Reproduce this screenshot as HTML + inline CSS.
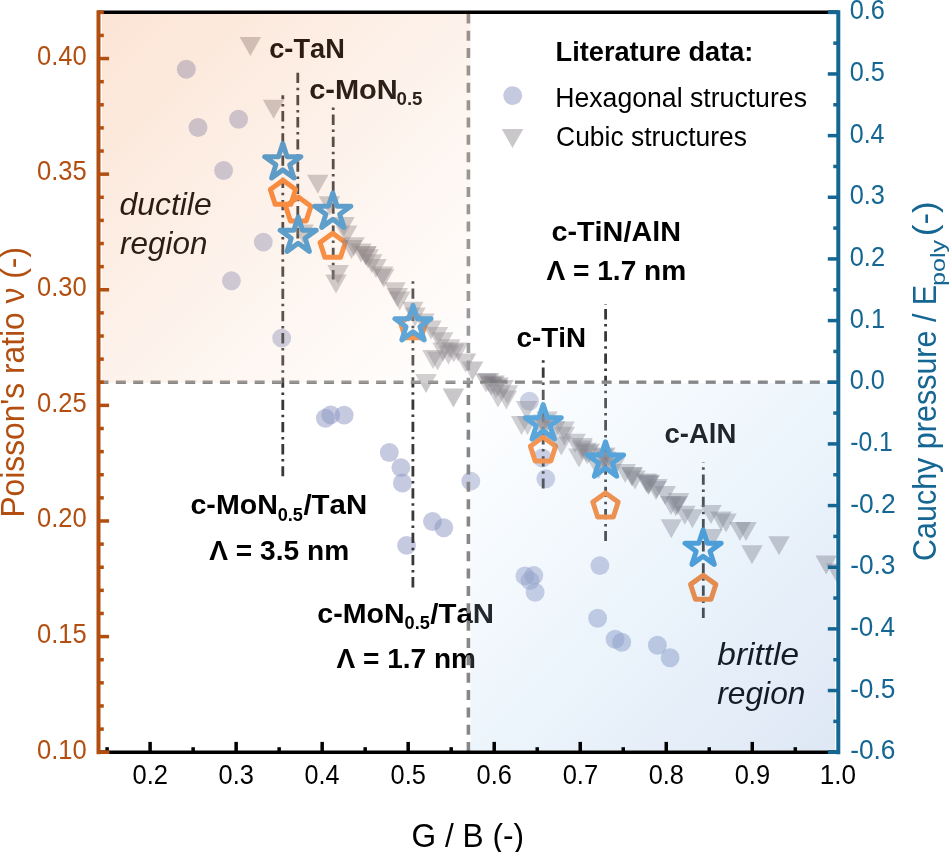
<!DOCTYPE html><html><head><meta charset="utf-8"><style>html,body{margin:0;padding:0;background:#fff;}svg{display:block;will-change:transform;font-family:"Liberation Sans",sans-serif;font-kerning:none;}</style></head><body>
<svg width="950" height="852" viewBox="0 0 950 852">
<defs><linearGradient id="gp" x1="0" y1="0" x2="1" y2="1"><stop offset="0" stop-color="#EE6A12"/><stop offset="0.5" stop-color="#F4B890"/><stop offset="1" stop-color="#FFFFFF"/></linearGradient><linearGradient id="gb" x1="0" y1="0" x2="1" y2="1"><stop offset="0" stop-color="#FFFFFF"/><stop offset="0.5" stop-color="#9BC8EF"/><stop offset="1" stop-color="#487FC7"/></linearGradient><clipPath id="pc"><rect x="98.5" y="12.3" width="739.8" height="739.9"/></clipPath></defs>
<rect width="950" height="852" fill="#fff"/>
<g clip-path="url(#pc)">
<circle cx="186.3" cy="69.3" r="9.45" fill="#8B95C1" fill-opacity="0.5"/>
<circle cx="198" cy="127.5" r="9.45" fill="#8B95C1" fill-opacity="0.5"/>
<circle cx="238.6" cy="119.3" r="9.45" fill="#8B95C1" fill-opacity="0.5"/>
<circle cx="223.6" cy="170.5" r="9.45" fill="#8B95C1" fill-opacity="0.5"/>
<circle cx="263.3" cy="242.1" r="9.45" fill="#8B95C1" fill-opacity="0.5"/>
<circle cx="231.4" cy="280.8" r="9.45" fill="#8B95C1" fill-opacity="0.5"/>
<circle cx="281.7" cy="338.1" r="9.45" fill="#8B95C1" fill-opacity="0.5"/>
<circle cx="325.4" cy="418.3" r="9.45" fill="#8B95C1" fill-opacity="0.5"/>
<circle cx="330.7" cy="414.9" r="9.45" fill="#8B95C1" fill-opacity="0.5"/>
<circle cx="344.2" cy="415.1" r="9.45" fill="#8B95C1" fill-opacity="0.5"/>
<circle cx="389.3" cy="452.5" r="9.45" fill="#8B95C1" fill-opacity="0.5"/>
<circle cx="400.9" cy="467.6" r="9.45" fill="#8B95C1" fill-opacity="0.5"/>
<circle cx="402.4" cy="483" r="9.45" fill="#8B95C1" fill-opacity="0.5"/>
<circle cx="470.8" cy="481.1" r="9.45" fill="#8B95C1" fill-opacity="0.5"/>
<circle cx="432.5" cy="521.5" r="9.45" fill="#8B95C1" fill-opacity="0.5"/>
<circle cx="443.8" cy="527.7" r="9.45" fill="#8B95C1" fill-opacity="0.5"/>
<circle cx="406.6" cy="545.4" r="9.45" fill="#8B95C1" fill-opacity="0.5"/>
<circle cx="529.4" cy="401.2" r="9.45" fill="#8B95C1" fill-opacity="0.5"/>
<circle cx="542.3" cy="458" r="9.45" fill="#8B95C1" fill-opacity="0.5"/>
<circle cx="545.8" cy="478.7" r="9.45" fill="#8B95C1" fill-opacity="0.5"/>
<circle cx="524.9" cy="575.9" r="9.45" fill="#8B95C1" fill-opacity="0.5"/>
<circle cx="533.8" cy="575.5" r="9.45" fill="#8B95C1" fill-opacity="0.5"/>
<circle cx="530" cy="580.6" r="9.45" fill="#8B95C1" fill-opacity="0.5"/>
<circle cx="535.1" cy="592.2" r="9.45" fill="#8B95C1" fill-opacity="0.5"/>
<circle cx="599.9" cy="565.6" r="9.45" fill="#8B95C1" fill-opacity="0.5"/>
<circle cx="597.6" cy="618.2" r="9.45" fill="#8B95C1" fill-opacity="0.5"/>
<circle cx="615.1" cy="639.3" r="9.45" fill="#8B95C1" fill-opacity="0.5"/>
<circle cx="621.7" cy="642.3" r="9.45" fill="#8B95C1" fill-opacity="0.5"/>
<circle cx="657.4" cy="645.2" r="9.45" fill="#8B95C1" fill-opacity="0.5"/>
<circle cx="670.1" cy="657.7" r="9.45" fill="#8B95C1" fill-opacity="0.5"/>
<line x1="282.8" y1="95.2" x2="282.8" y2="476.3" stroke="#383838" stroke-width="2.8" stroke-dasharray="10.3 4.7 2.5 4.7" stroke-dashoffset="6.3"/>
<line x1="297.8" y1="72.7" x2="297.8" y2="238.6" stroke="#383838" stroke-width="2.8" stroke-dasharray="10.3 4.7 2.5 4.7" stroke-dashoffset="0"/>
<line x1="333.2" y1="107.4" x2="333.2" y2="279.6" stroke="#383838" stroke-width="2.8" stroke-dasharray="10.3 4.7 2.5 4.7" stroke-dashoffset="15"/>
<line x1="412.9" y1="281.3" x2="412.9" y2="587.7" stroke="#383838" stroke-width="2.8" stroke-dasharray="10.3 4.7 2.5 4.7" stroke-dashoffset="15"/>
<line x1="543.2" y1="360.3" x2="543.2" y2="488.6" stroke="#383838" stroke-width="2.8" stroke-dasharray="10.3 4.7 2.5 4.7" stroke-dashoffset="15"/>
<line x1="605.6" y1="303.9" x2="605.6" y2="541" stroke="#383838" stroke-width="2.8" stroke-dasharray="10.3 4.7 2.5 4.7" stroke-dashoffset="17"/>
<line x1="703.3" y1="462.1" x2="703.3" y2="617.9" stroke="#383838" stroke-width="2.8" stroke-dasharray="10.3 4.7 2.5 4.7" stroke-dashoffset="9.8"/>
<polygon points="283,180.3 295.65,189.49 290.82,204.36 275.18,204.36 270.35,189.49" fill="none" stroke="#F7822F" stroke-width="5" stroke-linejoin="round"/>
<polygon points="298.3,197 310.95,206.19 306.12,221.06 290.48,221.06 285.65,206.19" fill="none" stroke="#F7822F" stroke-width="5" stroke-linejoin="round"/>
<polygon points="332.7,233.3 345.35,242.49 340.52,257.36 324.88,257.36 320.05,242.49" fill="none" stroke="#F7822F" stroke-width="5" stroke-linejoin="round"/>
<polygon points="413.2,313.7 425.85,322.89 421.02,337.76 405.38,337.76 400.55,322.89" fill="none" stroke="#F7822F" stroke-width="5" stroke-linejoin="round"/>
<polygon points="543,437 555.65,446.19 550.82,461.06 535.18,461.06 530.35,446.19" fill="none" stroke="#F7822F" stroke-width="5" stroke-linejoin="round"/>
<polygon points="605.5,492.9 618.15,502.09 613.32,516.96 597.68,516.96 592.85,502.09" fill="none" stroke="#F7822F" stroke-width="5" stroke-linejoin="round"/>
<polygon points="703.2,575.2 715.85,584.39 711.02,599.26 695.38,599.26 690.55,584.39" fill="none" stroke="#F7822F" stroke-width="5" stroke-linejoin="round"/>
<polygon points="239.65,36.9 261.15,36.9 250.4,55.9" fill="#78737A" fill-opacity="0.4"/>
<polygon points="262.85,99.8 284.35,99.8 273.6,118.8" fill="#78737A" fill-opacity="0.4"/>
<polygon points="307.05,174.8 328.55,174.8 317.8,193.8" fill="#78737A" fill-opacity="0.4"/>
<polygon points="318.75,196.3 340.25,196.3 329.5,215.3" fill="#78737A" fill-opacity="0.4"/>
<polygon points="292.25,224.5 313.75,224.5 303,243.5" fill="#78737A" fill-opacity="0.4"/>
<polygon points="333.25,217 354.75,217 344,236" fill="#78737A" fill-opacity="0.4"/>
<polygon points="335.85,225.5 357.35,225.5 346.6,244.5" fill="#78737A" fill-opacity="0.4"/>
<polygon points="343.25,237.2 364.75,237.2 354,256.2" fill="#78737A" fill-opacity="0.4"/>
<polygon points="327.25,265.1 348.75,265.1 338,284.1" fill="#78737A" fill-opacity="0.4"/>
<polygon points="325.25,274.5 346.75,274.5 336,293.5" fill="#78737A" fill-opacity="0.4"/>
<polygon points="340.75,240 362.25,240 351.5,259" fill="#78737A" fill-opacity="0.4"/>
<polygon points="350.25,243.5 371.75,243.5 361,262.5" fill="#78737A" fill-opacity="0.4"/>
<polygon points="354.85,246.5 376.35,246.5 365.6,265.5" fill="#78737A" fill-opacity="0.4"/>
<polygon points="355.25,246 376.75,246 366,265" fill="#78737A" fill-opacity="0.4"/>
<polygon points="357.25,249.3 378.75,249.3 368,268.3" fill="#78737A" fill-opacity="0.4"/>
<polygon points="360.95,254.2 382.45,254.2 371.7,273.2" fill="#78737A" fill-opacity="0.4"/>
<polygon points="365.25,258.9 386.75,258.9 376,277.9" fill="#78737A" fill-opacity="0.4"/>
<polygon points="371.85,266.5 393.35,266.5 382.6,285.5" fill="#78737A" fill-opacity="0.4"/>
<polygon points="373.05,268.8 394.55,268.8 383.8,287.8" fill="#78737A" fill-opacity="0.4"/>
<polygon points="384.25,282.3 405.75,282.3 395,301.3" fill="#78737A" fill-opacity="0.4"/>
<polygon points="386.55,288 408.05,288 397.3,307" fill="#78737A" fill-opacity="0.4"/>
<polygon points="388.95,291.5 410.45,291.5 399.7,310.5" fill="#78737A" fill-opacity="0.4"/>
<polygon points="402.05,301.7 423.55,301.7 412.8,320.7" fill="#78737A" fill-opacity="0.4"/>
<polygon points="404.25,307.5 425.75,307.5 415,326.5" fill="#78737A" fill-opacity="0.4"/>
<polygon points="413.15,313.5 434.65,313.5 423.9,332.5" fill="#78737A" fill-opacity="0.4"/>
<polygon points="420.25,320.5 441.75,320.5 431,339.5" fill="#78737A" fill-opacity="0.4"/>
<polygon points="426.65,327 448.15,327 437.4,346" fill="#78737A" fill-opacity="0.4"/>
<polygon points="431.95,332.3 453.45,332.3 442.7,351.3" fill="#78737A" fill-opacity="0.4"/>
<polygon points="438.95,339.3 460.45,339.3 449.7,358.3" fill="#78737A" fill-opacity="0.4"/>
<polygon points="443.05,343.5 464.55,343.5 453.8,362.5" fill="#78737A" fill-opacity="0.4"/>
<polygon points="422.25,349.9 443.75,349.9 433,368.9" fill="#78737A" fill-opacity="0.4"/>
<polygon points="432.25,342.5 453.75,342.5 443,361.5" fill="#78737A" fill-opacity="0.4"/>
<polygon points="454.75,353.5 476.25,353.5 465.5,372.5" fill="#78737A" fill-opacity="0.4"/>
<polygon points="461.75,361.5 483.25,361.5 472.5,380.5" fill="#78737A" fill-opacity="0.4"/>
<polygon points="437.75,345.5 459.25,345.5 448.5,364.5" fill="#78737A" fill-opacity="0.4"/>
<polygon points="415.25,373.9 436.75,373.9 426,392.9" fill="#78737A" fill-opacity="0.4"/>
<polygon points="442.65,388.5 464.15,388.5 453.4,407.5" fill="#78737A" fill-opacity="0.4"/>
<polygon points="477.75,372.9 499.25,372.9 488.5,391.9" fill="#78737A" fill-opacity="0.4"/>
<polygon points="483.25,375.5 504.75,375.5 494,394.5" fill="#78737A" fill-opacity="0.4"/>
<polygon points="487.25,377.5 508.75,377.5 498,396.5" fill="#78737A" fill-opacity="0.4"/>
<polygon points="492.25,380 513.75,380 503,399" fill="#78737A" fill-opacity="0.4"/>
<polygon points="496.65,385.2 518.15,385.2 507.4,404.2" fill="#78737A" fill-opacity="0.4"/>
<polygon points="487.25,388.5 508.75,388.5 498,407.5" fill="#78737A" fill-opacity="0.4"/>
<polygon points="495.65,390.5 517.15,390.5 506.4,409.5" fill="#78737A" fill-opacity="0.4"/>
<polygon points="515.85,401 537.35,401 526.6,420" fill="#78737A" fill-opacity="0.4"/>
<polygon points="510.85,416 532.35,416 521.6,435" fill="#78737A" fill-opacity="0.4"/>
<polygon points="516.75,416 538.25,416 527.5,435" fill="#78737A" fill-opacity="0.4"/>
<polygon points="544.05,421.1 565.55,421.1 554.8,440.1" fill="#78737A" fill-opacity="0.4"/>
<polygon points="553.55,426.8 575.05,426.8 564.3,445.8" fill="#78737A" fill-opacity="0.4"/>
<polygon points="564.35,433.8 585.85,433.8 575.1,452.8" fill="#78737A" fill-opacity="0.4"/>
<polygon points="571.45,438 592.95,438 582.2,457" fill="#78737A" fill-opacity="0.4"/>
<polygon points="578.55,443.7 600.05,443.7 589.3,462.7" fill="#78737A" fill-opacity="0.4"/>
<polygon points="550.55,436.5 572.05,436.5 561.3,455.5" fill="#78737A" fill-opacity="0.4"/>
<polygon points="568.15,448.5 589.65,448.5 578.9,467.5" fill="#78737A" fill-opacity="0.4"/>
<polygon points="587.85,459.9 609.35,459.9 598.6,478.9" fill="#78737A" fill-opacity="0.4"/>
<polygon points="614.45,464 635.95,464 625.2,483" fill="#78737A" fill-opacity="0.4"/>
<polygon points="621.45,467.5 642.95,467.5 632.2,486.5" fill="#78737A" fill-opacity="0.4"/>
<polygon points="624.25,470.5 645.75,470.5 635,489.5" fill="#78737A" fill-opacity="0.4"/>
<polygon points="637.75,476 659.25,476 648.5,495" fill="#78737A" fill-opacity="0.4"/>
<polygon points="645.25,481 666.75,481 656,500" fill="#78737A" fill-opacity="0.4"/>
<polygon points="620.95,466.9 642.45,466.9 631.7,485.9" fill="#78737A" fill-opacity="0.4"/>
<polygon points="637.15,474.7 658.65,474.7 647.9,493.7" fill="#78737A" fill-opacity="0.4"/>
<polygon points="635.55,473.5 657.05,473.5 646.3,492.5" fill="#78737A" fill-opacity="0.4"/>
<polygon points="638.45,474.8 659.95,474.8 649.2,493.8" fill="#78737A" fill-opacity="0.4"/>
<polygon points="654.45,486 675.95,486 665.2,505" fill="#78737A" fill-opacity="0.4"/>
<polygon points="646.15,479 667.65,479 656.9,498" fill="#78737A" fill-opacity="0.4"/>
<polygon points="667.75,493.1 689.25,493.1 678.5,512.1" fill="#78737A" fill-opacity="0.4"/>
<polygon points="664.95,497.3 686.45,497.3 675.7,516.3" fill="#78737A" fill-opacity="0.4"/>
<polygon points="660.25,495.9 681.75,495.9 671,514.9" fill="#78737A" fill-opacity="0.4"/>
<polygon points="666.55,495.9 688.05,495.9 677.3,514.9" fill="#78737A" fill-opacity="0.4"/>
<polygon points="674.05,505.8 695.55,505.8 684.8,524.8" fill="#78737A" fill-opacity="0.4"/>
<polygon points="681.65,509.3 703.15,509.3 692.4,528.3" fill="#78737A" fill-opacity="0.4"/>
<polygon points="700.25,505 721.75,505 711,524" fill="#78737A" fill-opacity="0.4"/>
<polygon points="710.25,511.5 731.75,511.5 721,530.5" fill="#78737A" fill-opacity="0.4"/>
<polygon points="715.25,513.5 736.75,513.5 726,532.5" fill="#78737A" fill-opacity="0.4"/>
<polygon points="729.25,522 750.75,522 740,541" fill="#78737A" fill-opacity="0.4"/>
<polygon points="735.25,522 756.75,522 746,541" fill="#78737A" fill-opacity="0.4"/>
<polygon points="660.55,519.2 682.05,519.2 671.3,538.2" fill="#78737A" fill-opacity="0.4"/>
<polygon points="701.25,529 722.75,529 712,548" fill="#78737A" fill-opacity="0.4"/>
<polygon points="741.25,545.2 762.75,545.2 752,564.2" fill="#78737A" fill-opacity="0.4"/>
<polygon points="768.25,536.2 789.75,536.2 779,555.2" fill="#78737A" fill-opacity="0.4"/>
<polygon points="815.45,555.5 836.95,555.5 826.2,574.5" fill="#78737A" fill-opacity="0.4"/>
<polygon points="826.05,563.5 847.55,563.5 836.8,582.5" fill="#78737A" fill-opacity="0.4"/>
<polygon points="532.25,414.5 553.75,414.5 543,433.5" fill="#78737A" fill-opacity="0.4"/>
<polygon points="536.25,411.5 557.75,411.5 547,430.5" fill="#78737A" fill-opacity="0.4"/>
<polygon points="553.25,421.5 574.75,421.5 564,440.5" fill="#78737A" fill-opacity="0.4"/>
<polygon points="571.25,440.5 592.75,440.5 582,459.5" fill="#78737A" fill-opacity="0.4"/>
<polygon points="575.15,442.7 596.65,442.7 585.9,461.7" fill="#78737A" fill-opacity="0.4"/>
<polygon points="576.55,445.3 598.05,445.3 587.3,464.3" fill="#78737A" fill-opacity="0.4"/>
<polygon points="592.25,448.5 613.75,448.5 603,467.5" fill="#78737A" fill-opacity="0.4"/>
<polygon points="595.25,451.5 616.75,451.5 606,470.5" fill="#78737A" fill-opacity="0.4"/>
<polygon points="598.25,453.5 619.75,453.5 609,472.5" fill="#78737A" fill-opacity="0.4"/>
<polygon points="603.75,457.5 625.25,457.5 614.5,476.5" fill="#78737A" fill-opacity="0.4"/>
<polygon points="475.25,373.5 496.75,373.5 486,392.5" fill="#78737A" fill-opacity="0.4"/>
<polygon points="480.25,376.5 501.75,376.5 491,395.5" fill="#78737A" fill-opacity="0.4"/>
<polygon points="485.25,379.5 506.75,379.5 496,398.5" fill="#78737A" fill-opacity="0.4"/>
<polygon points="530.25,416.5 551.75,416.5 541,435.5" fill="#78737A" fill-opacity="0.4"/>
<polygon points="534.25,417.5 555.75,417.5 545,436.5" fill="#78737A" fill-opacity="0.4"/>
<polygon points="594.25,447.5 615.75,447.5 605,466.5" fill="#78737A" fill-opacity="0.4"/>
<polygon points="590.25,452.5 611.75,452.5 601,471.5" fill="#78737A" fill-opacity="0.4"/>
<polygon points="426.75,351.5 448.25,351.5 437.5,370.5" fill="#78737A" fill-opacity="0.4"/>
<polygon points="447.25,342.5 468.75,342.5 458,361.5" fill="#78737A" fill-opacity="0.4"/>
<polygon points="282.8,143.6 287.07,156.73 300.87,156.73 289.7,164.84 293.97,177.97 282.8,169.86 271.63,177.97 275.9,164.84 264.73,156.73 278.53,156.73" fill="none" stroke="#3D96D4" stroke-width="5" stroke-linejoin="round"/>
<polygon points="298.2,217 302.47,230.13 316.27,230.13 305.1,238.24 309.37,251.37 298.2,243.26 287.03,251.37 291.3,238.24 280.13,230.13 293.93,230.13" fill="none" stroke="#3D96D4" stroke-width="5" stroke-linejoin="round"/>
<polygon points="332.8,193 337.07,206.13 350.87,206.13 339.7,214.24 343.97,227.37 332.8,219.26 321.63,227.37 325.9,214.24 314.73,206.13 328.53,206.13" fill="none" stroke="#3D96D4" stroke-width="5" stroke-linejoin="round"/>
<polygon points="413,305.5 417.27,318.63 431.07,318.63 419.9,326.74 424.17,339.87 413,331.76 401.83,339.87 406.1,326.74 394.93,318.63 408.73,318.63" fill="none" stroke="#3D96D4" stroke-width="5" stroke-linejoin="round"/>
<polygon points="543.2,404.6 547.47,417.73 561.27,417.73 550.1,425.84 554.37,438.97 543.2,430.86 532.03,438.97 536.3,425.84 525.13,417.73 538.93,417.73" fill="none" stroke="#3D96D4" stroke-width="5" stroke-linejoin="round"/>
<polygon points="605.5,441.8 609.77,454.93 623.57,454.93 612.4,463.04 616.67,476.17 605.5,468.06 594.33,476.17 598.6,463.04 587.43,454.93 601.23,454.93" fill="none" stroke="#3D96D4" stroke-width="5" stroke-linejoin="round"/>
<polygon points="703.1,530 707.37,543.13 721.17,543.13 710,551.24 714.27,564.37 703.1,556.26 691.93,564.37 696.2,551.24 685.03,543.13 698.83,543.13" fill="none" stroke="#3D96D4" stroke-width="5" stroke-linejoin="round"/>
</g>
<text x="269.24" y="57.5" font-size="27.33" font-weight="bold" font-style="normal" fill="#000" textLength="75.6" lengthAdjust="spacingAndGlyphs">c-TaN</text>
<text x="309.17" y="98.5" font-size="27.33" font-weight="bold" font-style="normal" fill="#000" textLength="88.59" lengthAdjust="spacingAndGlyphs">c-MoN</text>
<text x="396.56" y="105.2" font-size="17.8" font-weight="bold" font-style="normal" fill="#000" textLength="25.96" lengthAdjust="spacingAndGlyphs">0.5</text>
<text x="551.48" y="241.2" font-size="27.33" font-weight="bold" font-style="normal" fill="#000" textLength="129.46" lengthAdjust="spacingAndGlyphs">c-TiN/AlN</text>
<text x="546.51" y="280.4" font-size="27.33" font-weight="bold" font-style="normal" fill="#000" textLength="139.73" lengthAdjust="spacingAndGlyphs">Λ = 1.7 nm</text>
<text x="516.51" y="346.9" font-size="27.33" font-weight="bold" font-style="normal" fill="#000" textLength="69.46" lengthAdjust="spacingAndGlyphs">c-TiN</text>
<text x="664.42" y="442.7" font-size="27.33" font-weight="bold" font-style="normal" fill="#000" textLength="71.93" lengthAdjust="spacingAndGlyphs">c-AlN</text>
<text x="190.48" y="514" font-size="27.33" font-weight="bold" font-style="normal" fill="#000" textLength="87.34" lengthAdjust="spacingAndGlyphs">c-MoN</text>
<text x="277.68" y="520.7" font-size="17.8" font-weight="bold" font-style="normal" fill="#000" textLength="25.22" lengthAdjust="spacingAndGlyphs">0.5</text>
<text x="303.41" y="514" font-size="27.33" font-weight="bold" font-style="normal" fill="#000" textLength="63.77" lengthAdjust="spacingAndGlyphs">/TaN</text>
<text x="317.38" y="622.6" font-size="27.33" font-weight="bold" font-style="normal" fill="#000" textLength="87.34" lengthAdjust="spacingAndGlyphs">c-MoN</text>
<text x="404.58" y="629.3" font-size="17.8" font-weight="bold" font-style="normal" fill="#000" textLength="25.22" lengthAdjust="spacingAndGlyphs">0.5</text>
<text x="430.31" y="622.6" font-size="27.33" font-weight="bold" font-style="normal" fill="#000" textLength="63.77" lengthAdjust="spacingAndGlyphs">/TaN</text>
<text x="209.31" y="559.6" font-size="27.33" font-weight="bold" font-style="normal" fill="#000" textLength="139.84" lengthAdjust="spacingAndGlyphs">Λ = 3.5 nm</text>
<text x="336.61" y="667.9" font-size="27.33" font-weight="bold" font-style="normal" fill="#000" textLength="139.43" lengthAdjust="spacingAndGlyphs">Λ = 1.7 nm</text>
<text x="119.53" y="214.9" font-size="31.3" font-weight="normal" font-style="italic" fill="#000" textLength="92.16" lengthAdjust="spacingAndGlyphs">ductile</text>
<text x="120.08" y="254" font-size="31.3" font-weight="normal" font-style="italic" fill="#000" textLength="87.45" lengthAdjust="spacingAndGlyphs">region</text>
<text x="717.33" y="665.2" font-size="31.3" font-weight="normal" font-style="italic" fill="#000" textLength="81.71" lengthAdjust="spacingAndGlyphs">brittle</text>
<text x="717.27" y="703.5" font-size="31.3" font-weight="normal" font-style="italic" fill="#000" textLength="88.17" lengthAdjust="spacingAndGlyphs">region</text>
<text x="555.58" y="61.3" font-size="26.89" font-weight="bold" font-style="normal" fill="#000" textLength="197.83" lengthAdjust="spacingAndGlyphs">Literature data:</text>
<text x="555.21" y="106.6" font-size="26.74" font-weight="normal" font-style="normal" fill="#000" textLength="251.75" lengthAdjust="spacingAndGlyphs">Hexagonal structures</text>
<text x="556.06" y="146" font-size="26.74" font-weight="normal" font-style="normal" fill="#000" textLength="190.9" lengthAdjust="spacingAndGlyphs">Cubic structures</text>
<circle cx="512.7" cy="95.6" r="9.45" fill="#8B95C1" fill-opacity="0.5"/>
<polygon points="501.75,129 523.25,129 512.5,148" fill="#78737A" fill-opacity="0.4"/>
<line x1="468.4" y1="13.4" x2="468.4" y2="752.2" stroke="#878787" stroke-width="3.6" stroke-dasharray="10 7.35"/>
<line x1="98.5" y1="382.25" x2="838.3" y2="382.25" stroke="#878787" stroke-width="3.6" stroke-dasharray="10 7.35"/>
<rect x="102" y="14" width="368.6" height="368.85" fill="url(#gp)" opacity="0.18"/>
<rect x="470.6" y="383.05" width="364.4" height="367.45" fill="url(#gb)" opacity="0.18"/>
<line x1="107.1" y1="752.2" x2="107.1" y2="747.2" stroke="#000" stroke-width="3.5"/>
<line x1="150.11" y1="752.2" x2="150.11" y2="741.9" stroke="#000" stroke-width="3.5"/>
<line x1="193.13" y1="752.2" x2="193.13" y2="747.2" stroke="#000" stroke-width="3.5"/>
<line x1="236.14" y1="752.2" x2="236.14" y2="741.9" stroke="#000" stroke-width="3.5"/>
<line x1="279.15" y1="752.2" x2="279.15" y2="747.2" stroke="#000" stroke-width="3.5"/>
<line x1="322.16" y1="752.2" x2="322.16" y2="741.9" stroke="#000" stroke-width="3.5"/>
<line x1="365.17" y1="752.2" x2="365.17" y2="747.2" stroke="#000" stroke-width="3.5"/>
<line x1="408.18" y1="752.2" x2="408.18" y2="741.9" stroke="#000" stroke-width="3.5"/>
<line x1="451.2" y1="752.2" x2="451.2" y2="747.2" stroke="#000" stroke-width="3.5"/>
<line x1="494.21" y1="752.2" x2="494.21" y2="741.9" stroke="#000" stroke-width="3.5"/>
<line x1="537.22" y1="752.2" x2="537.22" y2="747.2" stroke="#000" stroke-width="3.5"/>
<line x1="580.23" y1="752.2" x2="580.23" y2="741.9" stroke="#000" stroke-width="3.5"/>
<line x1="623.24" y1="752.2" x2="623.24" y2="747.2" stroke="#000" stroke-width="3.5"/>
<line x1="666.25" y1="752.2" x2="666.25" y2="741.9" stroke="#000" stroke-width="3.5"/>
<line x1="709.27" y1="752.2" x2="709.27" y2="747.2" stroke="#000" stroke-width="3.5"/>
<line x1="752.28" y1="752.2" x2="752.28" y2="741.9" stroke="#000" stroke-width="3.5"/>
<line x1="795.29" y1="752.2" x2="795.29" y2="747.2" stroke="#000" stroke-width="3.5"/>
<line x1="98.5" y1="752.2" x2="109.1" y2="752.2" stroke="#B24F10" stroke-width="3.5"/>
<line x1="98.5" y1="729.08" x2="103.8" y2="729.08" stroke="#B24F10" stroke-width="3.5"/>
<line x1="98.5" y1="705.96" x2="103.8" y2="705.96" stroke="#B24F10" stroke-width="3.5"/>
<line x1="98.5" y1="682.83" x2="103.8" y2="682.83" stroke="#B24F10" stroke-width="3.5"/>
<line x1="98.5" y1="659.71" x2="103.8" y2="659.71" stroke="#B24F10" stroke-width="3.5"/>
<line x1="98.5" y1="636.59" x2="109.1" y2="636.59" stroke="#B24F10" stroke-width="3.5"/>
<line x1="98.5" y1="613.47" x2="103.8" y2="613.47" stroke="#B24F10" stroke-width="3.5"/>
<line x1="98.5" y1="590.35" x2="103.8" y2="590.35" stroke="#B24F10" stroke-width="3.5"/>
<line x1="98.5" y1="567.23" x2="103.8" y2="567.23" stroke="#B24F10" stroke-width="3.5"/>
<line x1="98.5" y1="544.1" x2="103.8" y2="544.1" stroke="#B24F10" stroke-width="3.5"/>
<line x1="98.5" y1="520.98" x2="109.1" y2="520.98" stroke="#B24F10" stroke-width="3.5"/>
<line x1="98.5" y1="497.86" x2="103.8" y2="497.86" stroke="#B24F10" stroke-width="3.5"/>
<line x1="98.5" y1="474.74" x2="103.8" y2="474.74" stroke="#B24F10" stroke-width="3.5"/>
<line x1="98.5" y1="451.62" x2="103.8" y2="451.62" stroke="#B24F10" stroke-width="3.5"/>
<line x1="98.5" y1="428.49" x2="103.8" y2="428.49" stroke="#B24F10" stroke-width="3.5"/>
<line x1="98.5" y1="405.37" x2="109.1" y2="405.37" stroke="#B24F10" stroke-width="3.5"/>
<line x1="98.5" y1="382.25" x2="103.8" y2="382.25" stroke="#B24F10" stroke-width="3.5"/>
<line x1="98.5" y1="359.13" x2="103.8" y2="359.13" stroke="#B24F10" stroke-width="3.5"/>
<line x1="98.5" y1="336.01" x2="103.8" y2="336.01" stroke="#B24F10" stroke-width="3.5"/>
<line x1="98.5" y1="312.88" x2="103.8" y2="312.88" stroke="#B24F10" stroke-width="3.5"/>
<line x1="98.5" y1="289.76" x2="109.1" y2="289.76" stroke="#B24F10" stroke-width="3.5"/>
<line x1="98.5" y1="266.64" x2="103.8" y2="266.64" stroke="#B24F10" stroke-width="3.5"/>
<line x1="98.5" y1="243.52" x2="103.8" y2="243.52" stroke="#B24F10" stroke-width="3.5"/>
<line x1="98.5" y1="220.4" x2="103.8" y2="220.4" stroke="#B24F10" stroke-width="3.5"/>
<line x1="98.5" y1="197.28" x2="103.8" y2="197.28" stroke="#B24F10" stroke-width="3.5"/>
<line x1="98.5" y1="174.15" x2="109.1" y2="174.15" stroke="#B24F10" stroke-width="3.5"/>
<line x1="98.5" y1="151.03" x2="103.8" y2="151.03" stroke="#B24F10" stroke-width="3.5"/>
<line x1="98.5" y1="127.91" x2="103.8" y2="127.91" stroke="#B24F10" stroke-width="3.5"/>
<line x1="98.5" y1="104.79" x2="103.8" y2="104.79" stroke="#B24F10" stroke-width="3.5"/>
<line x1="98.5" y1="81.67" x2="103.8" y2="81.67" stroke="#B24F10" stroke-width="3.5"/>
<line x1="98.5" y1="58.54" x2="109.1" y2="58.54" stroke="#B24F10" stroke-width="3.5"/>
<line x1="98.5" y1="35.42" x2="103.8" y2="35.42" stroke="#B24F10" stroke-width="3.5"/>
<line x1="838.3" y1="752.2" x2="827.8" y2="752.2" stroke="#156693" stroke-width="3.5"/>
<line x1="838.3" y1="721.37" x2="833.3" y2="721.37" stroke="#156693" stroke-width="3.5"/>
<line x1="838.3" y1="690.54" x2="827.8" y2="690.54" stroke="#156693" stroke-width="3.5"/>
<line x1="838.3" y1="659.71" x2="833.3" y2="659.71" stroke="#156693" stroke-width="3.5"/>
<line x1="838.3" y1="628.88" x2="827.8" y2="628.88" stroke="#156693" stroke-width="3.5"/>
<line x1="838.3" y1="598.05" x2="833.3" y2="598.05" stroke="#156693" stroke-width="3.5"/>
<line x1="838.3" y1="567.23" x2="827.8" y2="567.23" stroke="#156693" stroke-width="3.5"/>
<line x1="838.3" y1="536.4" x2="833.3" y2="536.4" stroke="#156693" stroke-width="3.5"/>
<line x1="838.3" y1="505.57" x2="827.8" y2="505.57" stroke="#156693" stroke-width="3.5"/>
<line x1="838.3" y1="474.74" x2="833.3" y2="474.74" stroke="#156693" stroke-width="3.5"/>
<line x1="838.3" y1="443.91" x2="827.8" y2="443.91" stroke="#156693" stroke-width="3.5"/>
<line x1="838.3" y1="413.08" x2="833.3" y2="413.08" stroke="#156693" stroke-width="3.5"/>
<line x1="838.3" y1="382.25" x2="827.8" y2="382.25" stroke="#156693" stroke-width="3.5"/>
<line x1="838.3" y1="351.42" x2="833.3" y2="351.42" stroke="#156693" stroke-width="3.5"/>
<line x1="838.3" y1="320.59" x2="827.8" y2="320.59" stroke="#156693" stroke-width="3.5"/>
<line x1="838.3" y1="289.76" x2="833.3" y2="289.76" stroke="#156693" stroke-width="3.5"/>
<line x1="838.3" y1="258.93" x2="827.8" y2="258.93" stroke="#156693" stroke-width="3.5"/>
<line x1="838.3" y1="228.1" x2="833.3" y2="228.1" stroke="#156693" stroke-width="3.5"/>
<line x1="838.3" y1="197.27" x2="827.8" y2="197.27" stroke="#156693" stroke-width="3.5"/>
<line x1="838.3" y1="166.45" x2="833.3" y2="166.45" stroke="#156693" stroke-width="3.5"/>
<line x1="838.3" y1="135.62" x2="827.8" y2="135.62" stroke="#156693" stroke-width="3.5"/>
<line x1="838.3" y1="104.79" x2="833.3" y2="104.79" stroke="#156693" stroke-width="3.5"/>
<line x1="838.3" y1="73.96" x2="827.8" y2="73.96" stroke="#156693" stroke-width="3.5"/>
<line x1="838.3" y1="43.13" x2="833.3" y2="43.13" stroke="#156693" stroke-width="3.5"/>
<line x1="838.3" y1="12.3" x2="827.8" y2="12.3" stroke="#156693" stroke-width="3.5"/>
<line x1="98.5" y1="12.3" x2="838.3" y2="12.3" stroke="#000" stroke-width="3.6"/>
<line x1="98.5" y1="752.2" x2="838.3" y2="752.2" stroke="#000" stroke-width="3.6"/>
<line x1="98.5" y1="752.2" x2="109.4" y2="752.2" stroke="#B24F10" stroke-width="3.6"/>
<line x1="838.3" y1="752.2" x2="827.8" y2="752.2" stroke="#156693" stroke-width="3.6"/>
<line x1="838.3" y1="12.3" x2="827.8" y2="12.3" stroke="#156693" stroke-width="3.6"/>
<line x1="98.5" y1="12.3" x2="103.8" y2="12.3" stroke="#B24F10" stroke-width="3.6"/>
<line x1="98.5" y1="12.3" x2="98.5" y2="752.2" stroke="#B24F10" stroke-width="4.0" stroke-linecap="square"/>
<line x1="838.3" y1="12.3" x2="838.3" y2="752.2" stroke="#156693" stroke-width="4.0" stroke-linecap="square"/>
<text x="37" y="758.5" font-size="28.4" font-weight="normal" font-style="normal" fill="#B24F10" textLength="49.69" lengthAdjust="spacingAndGlyphs">0.10</text>
<text x="37" y="642.89" font-size="28.4" font-weight="normal" font-style="normal" fill="#B24F10" textLength="49.77" lengthAdjust="spacingAndGlyphs">0.15</text>
<text x="37" y="527.28" font-size="28.4" font-weight="normal" font-style="normal" fill="#B24F10" textLength="49.69" lengthAdjust="spacingAndGlyphs">0.20</text>
<text x="37" y="411.67" font-size="28.4" font-weight="normal" font-style="normal" fill="#B24F10" textLength="49.77" lengthAdjust="spacingAndGlyphs">0.25</text>
<text x="37" y="296.06" font-size="28.4" font-weight="normal" font-style="normal" fill="#B24F10" textLength="49.69" lengthAdjust="spacingAndGlyphs">0.30</text>
<text x="37" y="180.45" font-size="28.4" font-weight="normal" font-style="normal" fill="#B24F10" textLength="49.77" lengthAdjust="spacingAndGlyphs">0.35</text>
<text x="37" y="64.84" font-size="28.4" font-weight="normal" font-style="normal" fill="#B24F10" textLength="49.69" lengthAdjust="spacingAndGlyphs">0.40</text>
<text x="850.13" y="759.2" font-size="28" font-weight="normal" font-style="normal" fill="#156693" textLength="45.32" lengthAdjust="spacingAndGlyphs">-0.6</text>
<text x="850.13" y="697.54" font-size="28" font-weight="normal" font-style="normal" fill="#156693" textLength="45.27" lengthAdjust="spacingAndGlyphs">-0.5</text>
<text x="850.14" y="635.88" font-size="28" font-weight="normal" font-style="normal" fill="#156693" textLength="44.92" lengthAdjust="spacingAndGlyphs">-0.4</text>
<text x="850.13" y="574.23" font-size="28" font-weight="normal" font-style="normal" fill="#156693" textLength="45.32" lengthAdjust="spacingAndGlyphs">-0.3</text>
<text x="850.13" y="512.57" font-size="28" font-weight="normal" font-style="normal" fill="#156693" textLength="45.5" lengthAdjust="spacingAndGlyphs">-0.2</text>
<text x="850.2" y="450.91" font-size="28" font-weight="normal" font-style="normal" fill="#156693" textLength="42.61" lengthAdjust="spacingAndGlyphs">-0.1</text>
<text x="849.71" y="389.25" font-size="28" font-weight="normal" font-style="normal" fill="#156693" textLength="35.07" lengthAdjust="spacingAndGlyphs">0.0</text>
<text x="849.71" y="327.59" font-size="28" font-weight="normal" font-style="normal" fill="#156693" textLength="35.33" lengthAdjust="spacingAndGlyphs">0.1</text>
<text x="849.71" y="265.93" font-size="28" font-weight="normal" font-style="normal" fill="#156693" textLength="35.37" lengthAdjust="spacingAndGlyphs">0.2</text>
<text x="849.71" y="204.27" font-size="28" font-weight="normal" font-style="normal" fill="#156693" textLength="35.2" lengthAdjust="spacingAndGlyphs">0.3</text>
<text x="849.72" y="142.62" font-size="28" font-weight="normal" font-style="normal" fill="#156693" textLength="34.81" lengthAdjust="spacingAndGlyphs">0.4</text>
<text x="849.71" y="80.96" font-size="28" font-weight="normal" font-style="normal" fill="#156693" textLength="35.15" lengthAdjust="spacingAndGlyphs">0.5</text>
<text x="849.71" y="19.3" font-size="28" font-weight="normal" font-style="normal" fill="#156693" textLength="35.2" lengthAdjust="spacingAndGlyphs">0.6</text>
<text x="132.52" y="784.2" font-size="28" font-weight="normal" font-style="normal" fill="#000" textLength="35.48" lengthAdjust="spacingAndGlyphs">0.2</text>
<text x="218.55" y="784.2" font-size="28" font-weight="normal" font-style="normal" fill="#000" textLength="35.31" lengthAdjust="spacingAndGlyphs">0.3</text>
<text x="304.58" y="784.2" font-size="28" font-weight="normal" font-style="normal" fill="#000" textLength="34.92" lengthAdjust="spacingAndGlyphs">0.4</text>
<text x="390.59" y="784.2" font-size="28" font-weight="normal" font-style="normal" fill="#000" textLength="35.26" lengthAdjust="spacingAndGlyphs">0.5</text>
<text x="476.61" y="784.2" font-size="28" font-weight="normal" font-style="normal" fill="#000" textLength="35.31" lengthAdjust="spacingAndGlyphs">0.6</text>
<text x="562.63" y="784.2" font-size="28" font-weight="normal" font-style="normal" fill="#000" textLength="35.48" lengthAdjust="spacingAndGlyphs">0.7</text>
<text x="648.66" y="784.2" font-size="28" font-weight="normal" font-style="normal" fill="#000" textLength="35.3" lengthAdjust="spacingAndGlyphs">0.8</text>
<text x="734.68" y="784.2" font-size="28" font-weight="normal" font-style="normal" fill="#000" textLength="35.4" lengthAdjust="spacingAndGlyphs">0.9</text>
<text x="819.72" y="784.2" font-size="28" font-weight="normal" font-style="normal" fill="#000" textLength="36.2" lengthAdjust="spacingAndGlyphs">1.0</text>
<text x="411.61" y="846.7" font-size="32.41" font-weight="normal" font-style="normal" fill="#000" textLength="112.56" lengthAdjust="spacingAndGlyphs">G / B (-)</text>
<g transform="translate(24.3,0) rotate(-90)">
<text x="-517.6" y="0" font-size="32.41" font-weight="normal" font-style="normal" fill="#B24F10" textLength="270.57" lengthAdjust="spacingAndGlyphs">Poisson's ratio ν (-)</text>
</g>
<g transform="translate(936.2,0) rotate(-90)">
<text x="-561.05" y="0" font-size="32.41" font-weight="normal" font-style="normal" fill="#156693" textLength="276.26" lengthAdjust="spacingAndGlyphs">Cauchy pressure / E</text>
<text x="-286.12" y="8.9" font-size="21" font-weight="normal" font-style="normal" fill="#156693" textLength="46.17" lengthAdjust="spacingAndGlyphs">poly</text>
<text x="-236.15" y="0" font-size="32.41" font-weight="normal" font-style="normal" fill="#156693" textLength="34.71" lengthAdjust="spacingAndGlyphs">(-)</text>
</g>
</svg></body></html>
